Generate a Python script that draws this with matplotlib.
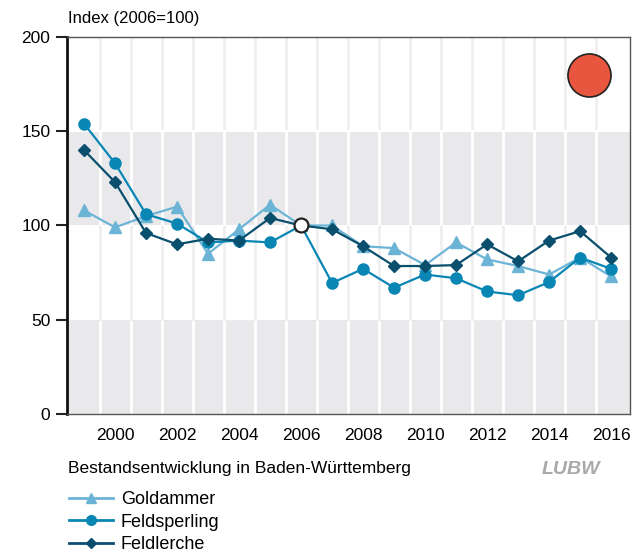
import matplotlib.pyplot as plt
from matplotlib.lines import Line2D

plt.rcParams['font.family'] = ['Liberation Sans Narrow', 'Liberation Sans', 'DejaVu Sans']

years = list(range(1999, 2017))
goldammer = [108, 99, 105, 110, 85, 98, 111, 100, 100, 89, 88, 79, 91, 82, 78.5, 74, 83, 73]
feldsperling = [154, 133, 106, 101, 91, 92, 91, 100, 69.5, 77, 67, 74, 72, 65, 63, 70, 83, 77]
feldlerche = [140, 123, 96, 90, 93, 92, 104, 100, 98, 89, 78.5, 78.5, 79, 90, 81, 92, 97, 83]
xtick_years = list(range(2000, 2017, 2))
yticks = [0, 50, 100, 150, 200]

c_gold = '#6cb4d6'
c_sper = '#0a86b4'
c_lerc = '#0b4f6e'

fig = plt.figure(figsize=(6.38, 5.52), dpi=100)
ax = fig.add_axes([0.105, 0.25, 0.8825, 0.683])
ax.set_xlim(1998.45, 2016.61)
ax.set_ylim(0, 200)

# grey bands and grid lines
for lo, hi in [(0, 50), (100, 150)]:
    ax.axhspan(lo, hi, color='#e9e9ec', lw=0, zorder=0)
for y in years[:-1]:
    xg = y + 0.5
    for lo, hi, col in [(0, 50, 'white'), (50, 100, '#efefef'),
                        (100, 150, 'white'), (150, 200, '#efefef')]:
        ax.plot([xg, xg], [lo, hi], color=col, lw=2, zorder=1, solid_capstyle='butt')
ax.axhline(150, color='white', lw=1.5, zorder=1)

ax.plot(years, goldammer, color=c_gold, lw=1.6, marker='^', ms=8, zorder=3)
ax.plot(years, feldsperling, color=c_sper, lw=1.6, marker='o', ms=8, zorder=4)
ax.plot(years, feldlerche, color=c_lerc, lw=1.6, marker='D', ms=6, zorder=5)
ax.plot([2006], [100], marker='o', ms=10, mfc='white', mec='#222222', mew=1.6, zorder=6)

# status indicator
ax.plot([2015.3], [180], marker='o', ms=31, mfc='#e8563f', mec='#222222', mew=1.2,
        zorder=6, clip_on=False)

ax.set_yticks(yticks)
ax.set_xticks(xtick_years)
ax.tick_params(axis='y', length=8, width=1.5, labelsize=12.5, pad=4, color='#222222')
ax.tick_params(axis='x', length=0, labelsize=12.5, pad=10)
for s in ['top', 'right', 'bottom']:
    ax.spines[s].set_color('#555555')
    ax.spines[s].set_linewidth(1)
ax.spines['left'].set_linewidth(2)
ax.spines['left'].set_color('#111111')

fig.text(68 / 638, 1 - 18 / 552, 'Index (2006=100)', fontsize=12, va='center', ha='left')
fig.text(68 / 638, 1 - 468 / 552, 'Bestandsentwicklung in Baden-Württemberg',
         fontsize=12.5, va='center', ha='left')
fig.text(600 / 638, 1 - 470 / 552, 'LUBW', fontsize=14, fontweight='bold', style='italic',
         color='#a9a9a9', va='center', ha='right')

handles = [
    Line2D([], [], color=c_gold, lw=2, marker='^', ms=7),
    Line2D([], [], color=c_sper, lw=2, marker='o', ms=7),
    Line2D([], [], color=c_lerc, lw=2, marker='D', ms=5),
]
fig.legend(handles, ['Goldammer', 'Feldsperling', 'Feldlerche'],
           loc='upper left', bbox_to_anchor=(62 / 638, 1 - 484 / 552),
           frameon=False, fontsize=13, handlelength=2.4, handletextpad=0.45,
           labelspacing=0.3, borderaxespad=0)

fig.savefig('out.png', dpi=100)
